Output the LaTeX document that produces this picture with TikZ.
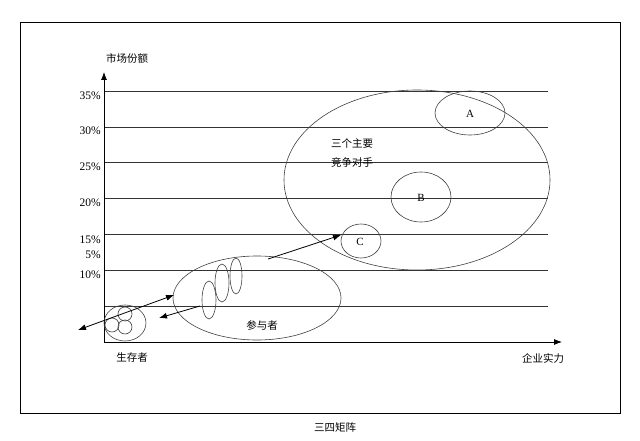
\documentclass[tikz,border=0pt]{standalone}
\usepackage{fontspec}
\usetikzlibrary{arrows.meta}
\setmainfont{Liberation Serif}
\newfontfamily\cjk{Noto Sans CJK SC}
\begin{document}
\begin{tikzpicture}[x=1pt,y=-1pt,
  ell/.style={draw=black!75,line width=0.6pt},
  grid/.style={draw=black!80,line width=0.7pt},
  pct/.style={anchor=east,inner sep=0pt,font=\fontsize{11.5}{12}\selectfont},
  cn/.style={inner sep=0pt,font=\cjk\fontsize{10.5}{11}\selectfont},
  arr/.style={-{Latex[length=8pt,width=6pt]},line width=0.8pt}]
\useasboundingbox (0,0) rectangle (640,441);
\draw[line width=0.6pt] (20,22) rectangle (620,413);
\foreach \y in {91,127,162,198,234,270,306} \draw[grid] (104,\y) -- (548,\y);
\coordinate (o) at (104,342);
\coordinate (ytop) at (104,72);
\coordinate (xend) at (562,342);
\draw[arr] (o) -- (ytop);
\draw[arr] (o) -- (xend);
\node[pct] (p35) at (101,96) {35\%};
\node[pct] (p30) at (101,131) {30\%};
\node[pct] (p25) at (101,167) {25\%};
\node[pct] (p20) at (101,203) {20\%};
\node[pct] (p15) at (101,240) {15\%};
\node[pct] (p5) at (101,255) {5\%};
\node[pct] (p10) at (101,275) {10\%};
\node[cn] (ylab) at (127,58) {市场份额};
\node[cn] (xlab) at (543,358) {企业实力};
\node[cn] (surv) at (132,358) {生存者};
\node[cn] (title) at (335,428) {三四矩阵};
% competitors
\draw[ell] (417,180) ellipse (133 and 90);
\node[cn,align=left] (comp) at (352,153) {三个主要\\[8pt]竞争对手};
\draw[ell] (470,113) ellipse (35 and 22);
\node[font=\fontsize{11}{11}\selectfont] (A) at (470,114) {A};
\draw[ell] (421,197) ellipse (30 and 25);
\node[font=\fontsize{11}{11}\selectfont] (B) at (421,198) {B};
\draw[ell] (361,241) ellipse (20 and 17);
\node[font=\fontsize{11}{11}\selectfont] (C) at (360,242) {C};
% participants
\draw[ell] (257,298) ellipse (84 and 42);
\node[cn] (part) at (262,325) {参与者};
\draw[ell] (209,300) ellipse (7 and 19);
\draw[ell] (222,283) ellipse (7 and 19);
\draw[ell] (236,276) ellipse (6 and 18);
% survivors
\draw[ell] (125,323) ellipse (21 and 18);
\draw[ell] (112,325) circle (7);
\draw[ell] (125,314) circle (7);
\draw[ell] (125,327) circle (7);
% arrows
\coordinate (a1) at (78,330); \coordinate (a2) at (174,295);
\draw[{Latex[length=8pt,width=6pt]}-{Latex[length=8pt,width=6pt]},line width=0.8pt] (a1) -- (a2);
\coordinate (b1) at (200,306); \coordinate (b2) at (159,318);
\draw[arr] (b1) -- (b2);
\coordinate (c1) at (268,259); \coordinate (c2) at (341,235);
\draw[arr] (c1) -- (c2);
\end{tikzpicture}
\end{document}
